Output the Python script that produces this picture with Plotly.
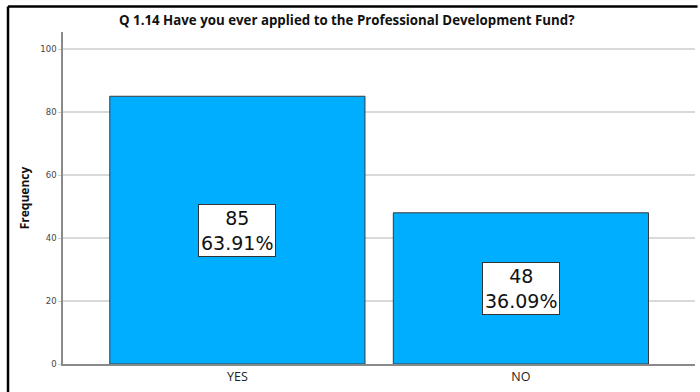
import plotly.graph_objects as go

categories = ["YES", "NO"]
counts = [85, 48]
y_ticks = [0, 20, 40, 60, 80, 100]

total = sum(counts)
percents = [c / total * 100 for c in counts]
xpos = list(range(len(categories)))

fig = go.Figure()
fig.add_trace(go.Bar(
    x=xpos, y=counts, width=0.9,
    marker=dict(color="#00AEFF", line=dict(color="#3a3a3a", width=1)),
    hoverinfo="skip",
))

for x, c, p in zip(xpos, counts, percents):
    fig.add_annotation(
        x=x, y=c / 2, xref="x", yref="y",
        text=f"{c}<br>{p:.2f}%", showarrow=False,
        font=dict(family="DejaVu Sans", size=19, color="#111111"),
        bgcolor="white", bordercolor="#333333", borderwidth=1, borderpad=2,
        align="center",
    )

fig.add_annotation(
    x=0.449, y=1.0, xref="paper", yref="paper", yanchor="bottom", yshift=1,
    text="<b>Q 1.14 Have you ever applied to the Professional Development Fund?</b>",
    showarrow=False, font=dict(family="Open Sans", size=13.3, color="#111111"),
)

# frame lines along the top and left of the page
fig.add_shape(type="line", xref="paper", yref="paper", x0=-0.087, x1=1.004,
              y0=1.077, y1=1.077, line=dict(color="black", width=2.5))
fig.add_shape(type="line", xref="paper", yref="paper", x0=-0.087, x1=-0.087,
              y0=1.077, y1=-0.1, line=dict(color="black", width=2.5))

fig.update_layout(
    width=700, height=392,
    margin=dict(l=63, r=5, t=32, b=28),
    paper_bgcolor="white", plot_bgcolor="white",
    showlegend=False,
    xaxis=dict(
        range=[-0.615, 1.614], tickvals=xpos, ticktext=categories,
        showgrid=False, zeroline=False, showline=True, linecolor="#8a8a8a", linewidth=1.5,
        ticks="", tickfont=dict(family="Open Sans", size=12.5, color="#222222"),
    ),
    yaxis=dict(
        range=[0, 105.4], tickvals=y_ticks,
        showgrid=True, gridcolor="#d9d9d9", gridwidth=1.5, zeroline=False,
        showline=True, linecolor="#8a8a8a", linewidth=1.5,
        ticks="outside", ticklen=3, tickcolor="#cccccc",
        tickfont=dict(family="DejaVu Sans", size=8.5, color="#444444"),
        title=dict(text="<b>Frequency</b>", standoff=8,
                   font=dict(family="Open Sans", size=12, color="#111111")),
    ),
)

fig.write_html("out.html", config={"displayModeBar": False})
